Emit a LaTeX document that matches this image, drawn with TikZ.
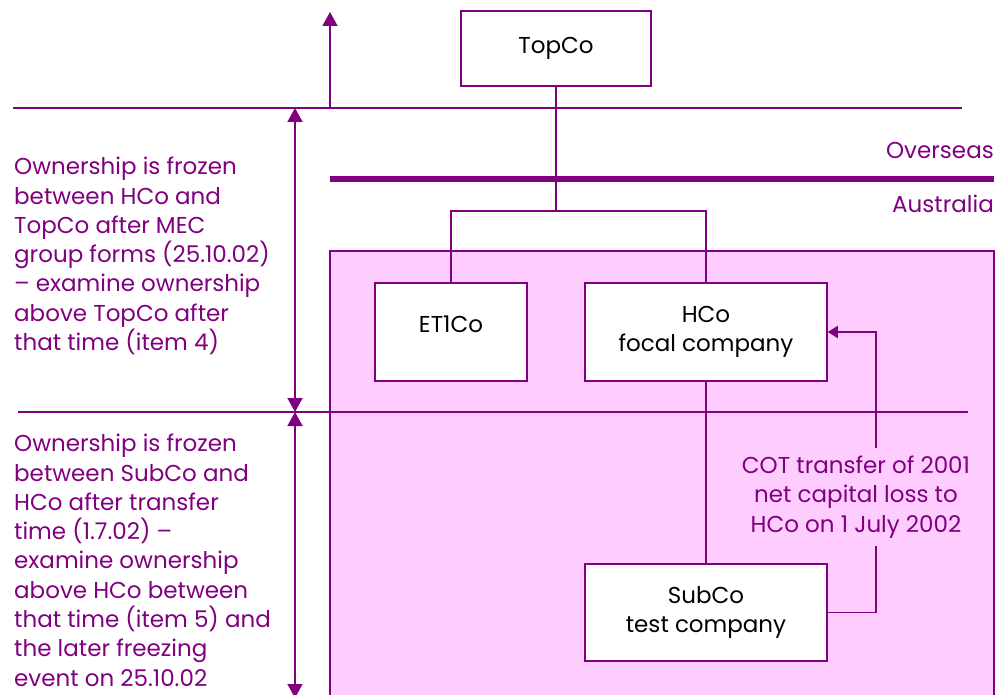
\documentclass[tikz,border=0pt]{standalone}
\usepackage{fontspec}
\setmainfont{Poppins}
\usetikzlibrary{arrows.meta}
\definecolor{pur}{HTML}{800080}
\definecolor{pnk}{HTML}{FFCCFF}
\begin{document}
\begin{tikzpicture}[x=1pt,y=-1pt,
  font=\fontsize{23}{29.3}\selectfont,
  line/.style={draw=pur, line width=1.5pt},
  cobox/.style={draw=pur, line width=1.5pt, fill=white, align=center, text=black, inner sep=0pt},
  lbl/.style={text=pur, align=left, inner sep=0pt},
  bigtip/.style={-{Triangle[length=14pt,width=15pt]}},
  dbltip/.style={{Triangle[length=14pt,width=15pt]}-{Triangle[length=14pt,width=15pt]}},
  smalltip/.style={-{Triangle[length=10pt,width=12pt]}}]

\useasboundingbox (0,0) rectangle (1007,695);

% Australian region
\draw[line, fill=pnk] (330,251) rectangle (994,720);

% separator lines
\coordinate (l1a) at (13,108);
\coordinate (l1b) at (962,108);
\coordinate (l2a) at (18,412);
\coordinate (l2b) at (968,412);
\coordinate (tha) at (330,179);
\coordinate (thb) at (994,179);
\draw[line] (l1a) -- (l1b);
\draw[line] (l2a) -- (l2b);
\draw[draw=pur, line width=5.5pt] (tha) -- (thb);

% up arrow
\coordinate (upa) at (330,108);
\coordinate (upb) at (330,12);
\draw[line, bigtip] (upa) -- (upb);

% double arrows
\coordinate (d1) at (295,108);
\coordinate (d2) at (295,412);
\coordinate (d3) at (295,698);
\draw[line, dbltip] (d1) -- (d2);
\draw[line, dbltip] (d2) -- (d3);

% companies
\node[cobox, minimum width=190pt, minimum height=75pt] (topco) at (556,48.5) {TopCo};
\node[cobox, minimum width=152pt, minimum height=98pt, text depth=16pt] (et1co) at (451,332) {ET1Co};
\node[cobox, minimum width=242pt, minimum height=98pt] (hco) at (706,332) {HCo\\focal company};
\node[cobox, minimum width=242pt, minimum height=97pt] (subco) at (706,612.5) {SubCo\\test company};

% ownership lines
\coordinate (j) at (556,211);
\draw[line] (topco.south) -- (j);
\draw[line] (et1co.north) |- (j) -| (hco.north);
\draw[line] (hco.south) -- (subco.north);

% COT transfer arrow
\coordinate (cr) at (876,612.5);
\draw[line, smalltip] (subco.east) -- (cr) |- (hco.east);
\node[lbl, align=center, fill=pnk, inner xsep=2pt, inner ysep=8pt] (cot) at (856,497)
  {COT transfer of 2001\\net capital loss to\\HCo on 1 July 2002};

% region labels
\node[lbl, anchor=east] (ovs) at (994,150) {Overseas};
\node[lbl, anchor=east] (aus) at (994,204) {Australia};

% side notes
\node[lbl, anchor=north west] (n1) at (14,157) {Ownership is frozen\\between HCo and\\TopCo after MEC\\group forms (25.10.02)\\– examine ownership\\above TopCo after\\that time (item 4)};
\node[lbl, anchor=north west] (n2) at (14,434) {Ownership is frozen\\between SubCo and\\HCo after transfer\\time (1.7.02) –\\examine ownership\\above HCo between\\that time (item 5) and\\the later freezing\\event on 25.10.02};
\end{tikzpicture}
\end{document}
